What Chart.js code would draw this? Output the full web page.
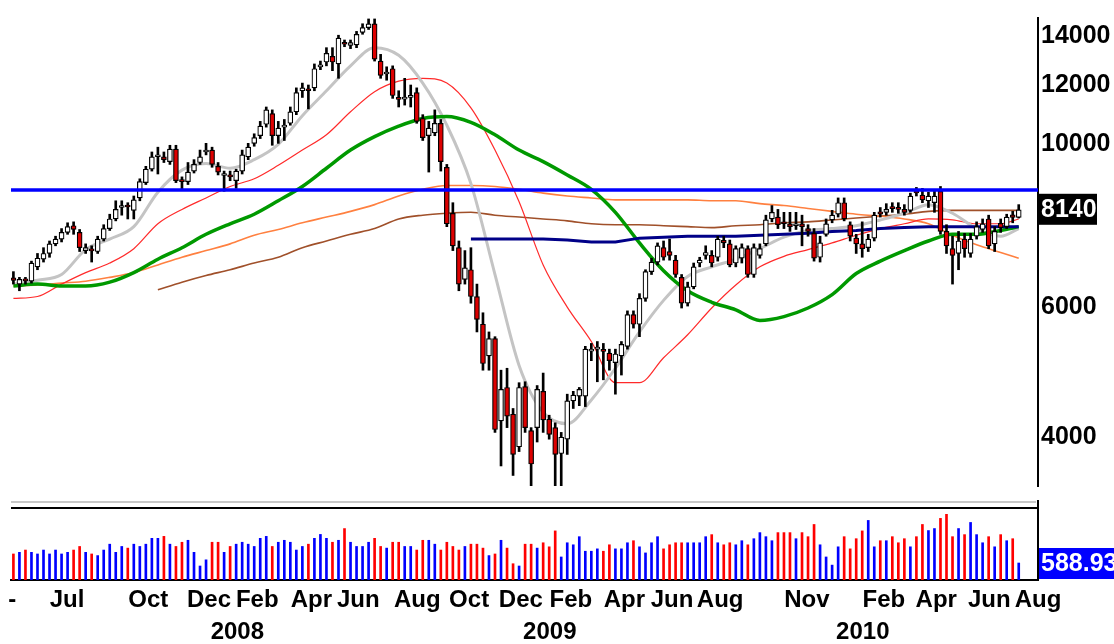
<!DOCTYPE html>
<html>
<head>
<meta charset="utf-8">
<script src="https://cdn.jsdelivr.net/npm/chart.js@4.4.1/dist/chart.umd.min.js"></script>
<style>
  body { margin: 0; background: #fff; }
  #wrap { position: relative; width: 1114px; height: 644px; background: #fff; }
  #price { position: absolute; left: 0; top: 0; }
  #vol { position: absolute; left: 0; top: 504px; }
</style>
</head>
<body>
<div id="wrap">
  <canvas id="price" width="1114" height="504"></canvas>
  <canvas id="vol" width="1114" height="140"></canvas>
</div>
<script>
// weekly candles, one entry per week
const opens = [6580,6454,6560,6512,6811,6976,7102,7318,7428,7585,7745,7585,7166,7200,7145,7428,7676,7910,8198,8230,
  8125,8447,8861,9240,9606,9606,9463,9838,8914,8887,9186,9435,9751,9809,9324,9060,9076,8914,9186,9606,
  10017,10259,10633,10990,10259,10538,10665,11055,11806,11877,11913,12723,12914,13148,12837,13720,13600,13628,14169,14382,
  14554,12953,12440,12647,11562,11500,11562,11736,10826,10259,10351,10665,9296,8052,7231,6551,6750,6208,5693,5158,
  5443,4209,4673,4298,3883,4687,4085,4122,4617,4234,4122,3802,3976,4482,4549,4549,5235,5267,5260,5204,
  5051,5158,5314,5866,5693,6171,6710,6914,7231,7145,6955,6591,6080,6397,6893,7060,7060,7018,7400,7318,
  6893,6997,7209,6650,7060,7318,7910,7957,7816,7792,7745,7792,7676,7562,7018,7540,7886,8028,8322,7769,
  7450,7318,7231,7450,8090,8076,8200,8200,8149,8125,8640,8523,8372,8322,8625,7608,7209,7102,7428,7102,
  7495,7654,7910,7318,7800,7722,8010,7950];
const highs = [6710,6591,6591,6934,7102,7231,7384,7495,7676,7816,7839,7654,7318,7274,7495,7769,8028,8372,8372,8322,
  8498,8967,9324,9751,9898,9751,9957,9957,9021,9435,9520,9809,10017,9898,9435,9186,9186,9240,9809,10017,
  10321,10729,11222,11121,10729,10793,11222,11913,12092,12020,12837,12953,13506,13506,14042,13834,13834,14211,14554,14774,
  14774,13227,12723,12761,11806,12274,12020,11913,10956,10729,11121,10793,9379,8322,7384,7166,7231,6454,5901,5558,
  5476,4932,4962,4376,4743,4757,4122,4701,4888,4285,4184,4061,4576,4617,4673,5314,5362,5394,5362,5267,
  5267,5394,5936,5936,6264,6750,6997,7340,7384,7428,7060,6650,6493,6893,7018,7274,7166,7495,7495,7406,
  7274,7318,7274,7318,7318,8004,8248,8149,8076,8076,8076,8004,7769,7676,7495,7910,8125,8447,8447,7839,
  7540,7839,7540,8076,8198,8297,8322,8322,8272,8574,8729,8703,8600,8625,8755,7769,7495,7608,7562,7562,
  7839,7910,8004,7722,7910,8028,8100,8272];
const lows = [6454,6321,6454,6474,6750,6914,7018,7274,7362,7540,7540,7145,7102,6914,7102,7384,7631,7863,8004,7910,
  7910,8372,8808,9186,9103,9435,9379,8861,8651,8808,9131,9379,9663,9296,9076,8625,8914,8703,9103,9520,
  9927,10168,10538,9957,10017,10107,10601,10956,11562,11155,11806,12609,12761,12571,12274,13547,13466,13506,14084,14296,
  12953,12274,12201,11528,11222,11289,11222,10665,10107,9158,10259,9186,7722,7166,6321,6454,6080,5558,4932,4932,
  4061,3657,4122,3550,3825,4061,3418,3941,4061,3976,3418,3418,3791,4376,4415,4402,5081,4757,4786,4932,
  4576,4858,5267,5625,5476,6116,6650,6852,6955,6955,6591,5989,6026,6359,6811,6976,6811,6934,7231,6811,
  6811,6893,6591,6591,6997,7274,7839,7676,7676,7608,7654,7274,7495,6934,6914,7495,7816,7957,7863,7384,
  7102,7018,7145,7384,7957,8004,8076,8052,8004,8076,8498,8322,8198,8076,7540,7102,6454,6750,7018,7018,
  7428,7585,7209,7145,7585,7676,7816,7933];
const closes = [6530,6551,6520,6893,6997,7102,7318,7428,7585,7722,7654,7231,7231,7160,7428,7676,7910,8149,8223,8210,
  8397,8887,9240,9606,9663,9520,9838,8914,8887,9158,9379,9606,9780,9379,9158,9100,9021,9186,9663,9898,
  10198,10570,11121,10259,10507,10601,11055,11736,11913,11806,12647,12761,13267,12914,13917,13650,13720,14084,14382,14554,
  13031,12385,12500,11632,11494,11560,11632,10729,10198,10507,10665,9463,7792,7274,6454,6791,6208,5779,5036,5443,
  4098,4645,4273,3791,4673,4122,3679,4645,4222,4037,3791,4000,4482,4563,4645,5267,5267,5283,5230,5081,
  5188,5346,5866,5693,6171,6710,6914,7274,7018,7060,6650,6080,6397,6811,6955,7124,6893,7428,7340,6852,
  7209,7231,6650,7231,7209,7886,8076,7769,7792,7722,7769,7722,7608,6997,7340,7792,8004,8322,7910,7495,
  7318,7209,7428,8004,8030,8149,8170,8150,8076,8498,8580,8397,8498,8498,7608,7274,7060,7384,7209,7428,
  7722,7792,7274,7608,7700,7957,7950,8140];
const volumes = [902,959,1038,959,902,1038,902,1038,902,959,1038,1162,959,902,846,1038,1241,959,1162,1105,
  1241,1162,1241,1444,1444,1512,1241,1162,1308,1376,959,485,699,1308,1308,959,1162,1241,1308,1241,
  1162,1444,1512,1162,1308,1376,1308,1038,1162,1241,1444,1579,1444,1308,1376,1782,1308,1162,1162,1308,
  1444,1162,1105,1308,1308,1162,1162,1038,1376,1376,1241,1038,1308,1162,1038,1162,1241,1241,1105,846,
  902,1376,1105,564,485,1241,1241,1105,1290,1150,1701,798,1290,1220,1501,997,997,1079,997,1220,
  1079,1079,1290,1361,1150,938,1290,1501,1079,1220,1290,1290,1290,1290,1290,1501,1572,1290,1220,1290,
  1220,1361,1220,1431,1642,1501,1361,1642,1642,1642,1431,1642,1501,1924,1220,798,516,1150,1501,1079,
  1431,1701,2064,1150,1361,1361,1501,1290,1431,1150,1501,1924,1713,1783,2135,2276,1501,1783,1572,1994,
  1572,1290,1501,1150,1572,1361,1431,588.93];

// moving averages read every 4 weeks
const maIdx = [0,4,8,12,16,20,24,28,32,36,40,44,48,52,56,60,64,68,72,76,80,84,88,92,96,100,104,108,112,116,120,124,128,132,136,140,144,148,152,156,160,164,167];
const maGray = [6454,6532,6650,7188,7428,7722,8600,9213,9407,9268,9520,9987,10923,11806,12761,13506,13188,12092,10601,8834,6650,5006,4324,4172,4495,4962,5558,6134,6610,6811,6976,7209,7473,7631,7676,7745,7886,8052,8272,8052,7676,7495,7676];
const maRed = [6171,6208,6454,6690,6893,7209,7792,8149,8447,8755,8967,9352,9809,10290,11055,11771,12164,12274,12092,11189,9809,8347,6852,6007,5394,4743,4743,5127,5509,5989,6435,6811,7039,7188,7340,7518,7676,7792,7910,7886,7792,7792,7910];
const maGreen = [6416,6454,6416,6416,6493,6690,6976,7231,7540,7792,8028,8372,8755,9268,9809,10229,10570,10826,10891,10697,10290,9809,9463,9076,8677,8076,7340,6730,6321,6098,5954,5761,5831,5989,6245,6670,6934,7166,7384,7540,7540,7631,7722];
const maOrange = [6416,6435,6474,6512,6591,6690,6852,7018,7166,7318,7518,7654,7816,7957,8100,8272,8498,8677,8781,8781,8755,8677,8574,8498,8447,8397,8397,8397,8397,8372,8372,8297,8248,8174,8100,8028,7980,7910,7792,7518,7296,7124,6997];
const maBrown = [null,null,null,null,null,null,6340,6493,6630,6750,6893,7018,7231,7384,7540,7676,7910,8004,8052,8076,8004,7957,7910,7863,7792,7769,7769,7745,7722,7699,7745,7769,7816,7839,7886,7933,7980,8028,8100,8125,8125,8125,8125];
const maNavy = [null,null,null,null,null,null,null,null,null,null,null,null,null,null,null,null,null,null,null,7428,7428,7428,7428,7406,7362,7362,7450,7473,7495,7495,7495,7518,7540,7562,7608,7631,7676,7699,7722,7722,7722,7722,7722];
const resistance = 8660;

const priceTicks = [4000, 6000, 10000, 12000, 14000];
const monthLabels = ['-','Jul','Oct','Dec','Feb','Apr','Jun','Aug','Oct','Dec','Feb','Apr','Jun','Aug','Nov','Feb','Apr','Jun','Aug'];
const monthPos = [-0.2,8.9,22.4,32.5,40.5,49.5,57.3,67.1,75.7,84.3,92.6,101.5,109.4,117.4,131.8,144.6,153.3,162.1,170.2];
const yearLabels = ['2008','2009','2010'];
const yearPos = [37.2,89.1,141.1];

const X_MIN = -0.4, X_MAX = 170.2;
const FAMILY = '"Liberation Sans", Arial, sans-serif';
const fixWidth = s => { s.width = 76; };

const up = closes.map((c, i) => c >= opens[i]);

function maLine(vals, color, width, order, tension) {
  return {
    type: 'line',
    data: maIdx.map((x, k) => ({x: x, y: vals[k]})).filter(p => p.y !== null),
    borderColor: color,
    borderWidth: width,
    pointRadius: 0,
    tension: tension,
    cubicInterpolationMode: tension ? 'monotone' : 'default',
    fill: false,
    order: order
  };
}

const priceDecor = {
  id: 'priceDecor',
  afterDraw(chart) {
    const ctx = chart.ctx;
    const y = chart.scales.y;
    ctx.save();
    ctx.strokeStyle = '#c8c8c8';
    ctx.lineWidth = 2;
    ctx.beginPath(); ctx.moveTo(11, 502); ctx.lineTo(1036, 502); ctx.stroke();
    ctx.strokeStyle = '#000';
    ctx.beginPath(); ctx.moveTo(1038, 500); ctx.lineTo(1038, 504); ctx.stroke();
    const last = closes[closes.length - 1];
    const py = y.getPixelForValue(last);
    ctx.fillStyle = '#000';
    ctx.fillRect(1039, py - 16, 58, 31);
    ctx.fillStyle = '#fff';
    ctx.font = 'bold 25px ' + FAMILY;
    ctx.textBaseline = 'middle';
    ctx.textAlign = 'left';
    ctx.fillText(String(last), 1041, py);
    ctx.restore();
  }
};

const volDecor = {
  id: 'volDecor',
  afterDraw(chart) {
    const ctx = chart.ctx;
    const x = chart.scales.x, y = chart.scales.y;
    ctx.save();
    ctx.strokeStyle = '#000';
    ctx.lineWidth = 2;
    ctx.beginPath(); ctx.moveTo(11, 4); ctx.lineTo(1039, 4); ctx.stroke();
    ctx.beginPath(); ctx.moveTo(1038, 0); ctx.lineTo(1038, 6); ctx.stroke();
    const last = volumes[volumes.length - 1];
    const py = y.getPixelForValue(last);
    ctx.fillStyle = '#0000ff';
    ctx.fillRect(1039, py - 15, 80, 31);
    ctx.fillStyle = '#fff';
    ctx.font = 'bold 25px ' + FAMILY;
    ctx.textBaseline = 'middle';
    ctx.fillText(last.toFixed(2), 1041, py + 1);
    ctx.fillStyle = '#000';
    ctx.font = 'bold 24px ' + FAMILY;
    ctx.textAlign = 'center';
    yearLabels.forEach((t, k) => ctx.fillText(t, x.getPixelForValue(yearPos[k]), 128));
    ctx.restore();
  }
};

new Chart(document.getElementById('price'), {
  type: 'bar',
  data: {
    datasets: [
      {
        type: 'line',
        data: [{x: X_MIN, y: resistance}, {x: X_MAX, y: resistance}],
        borderColor: '#0000ff', borderWidth: 3.5, pointRadius: 0, order: 0
      },
      {
        data: opens.map((o, i) => ({x: i, y: [o, closes[i]]})),
        backgroundColor: up.map(u => u ? '#ffffff' : '#dd0000'),
        borderColor: '#000', borderWidth: 1.2, borderSkipped: false,
        barThickness: 5, minBarLength: 2, grouped: false, order: 1
      },
      {
        data: lows.map((l, i) => ({x: i, y: [l, highs[i]]})),
        backgroundColor: '#000', barThickness: 2, grouped: false, order: 2
      },
      maLine(maNavy, '#000088', 3, 3, 0),
      maLine(maGreen, '#009900', 3.5, 4, 0.4),
      maLine(maGray, '#c4c4c4', 3, 5, 0.4),
      maLine(maRed, '#ff2a2a', 1.2, 6, 0.4),
      maLine(maOrange, '#ff8040', 1.6, 7, 0.4),
      maLine(maBrown, '#a0502a', 1.6, 8, 0.4)
    ]
  },
  options: {
    responsive: false,
    animation: false,
    layout: { padding: { left: 11, top: 12, right: 0, bottom: 3 } },
    plugins: { legend: { display: false }, tooltip: { enabled: false } },
    scales: {
      x: { type: 'linear', min: X_MIN, max: X_MAX, bounds: 'data', offset: false, display: false },
      y: {
        type: 'logarithmic', position: 'right', min: 3435, max: 14818, bounds: 'data',
        afterBuildTicks: s => { s.ticks = priceTicks.map(v => ({value: v})); },
        afterFit: fixWidth,
        grid: { display: false, drawTicks: false },
        border: { display: true, color: '#000', width: 2 },
        ticks: {
          autoSkip: false, color: '#000', padding: 3,
          font: { family: FAMILY, size: 25, weight: 'bold' },
          callback: v => String(v)
        }
      }
    }
  },
  plugins: [priceDecor]
});

new Chart(document.getElementById('vol'), {
  type: 'bar',
  data: {
    datasets: [{
      data: volumes.map((v, i) => ({x: i, y: v})),
      backgroundColor: up.map(u => u ? '#0000ff' : '#ff0000'),
      barThickness: 2
    }]
  },
  options: {
    responsive: false,
    animation: false,
    layout: { padding: { left: 11, top: 5, right: 0, bottom: 0 } },
    plugins: { legend: { display: false }, tooltip: { enabled: false } },
    scales: {
      x: {
        type: 'linear', min: X_MIN, max: X_MAX, bounds: 'data', offset: false,
        afterBuildTicks: s => { s.ticks = monthPos.map(v => ({value: v})); },
        afterFit: s => { s.height = 64; },
        grid: { display: false, drawTicks: false, offset: false },
        border: { display: true, color: '#000', width: 2 },
        ticks: {
          autoSkip: false, maxRotation: 0, color: '#000', padding: 6,
          font: { family: FAMILY, size: 24, weight: 'bold' },
          callback: (v, i) => monthLabels[i]
        }
      },
      y: {
        position: 'right', min: 0, max: 2460,
        afterFit: fixWidth,
        grid: { display: false, drawTicks: false },
        border: { display: true, color: '#000', width: 2 },
        ticks: { display: false }
      }
    }
  },
  plugins: [volDecor]
});
</script>
</body>
</html>
